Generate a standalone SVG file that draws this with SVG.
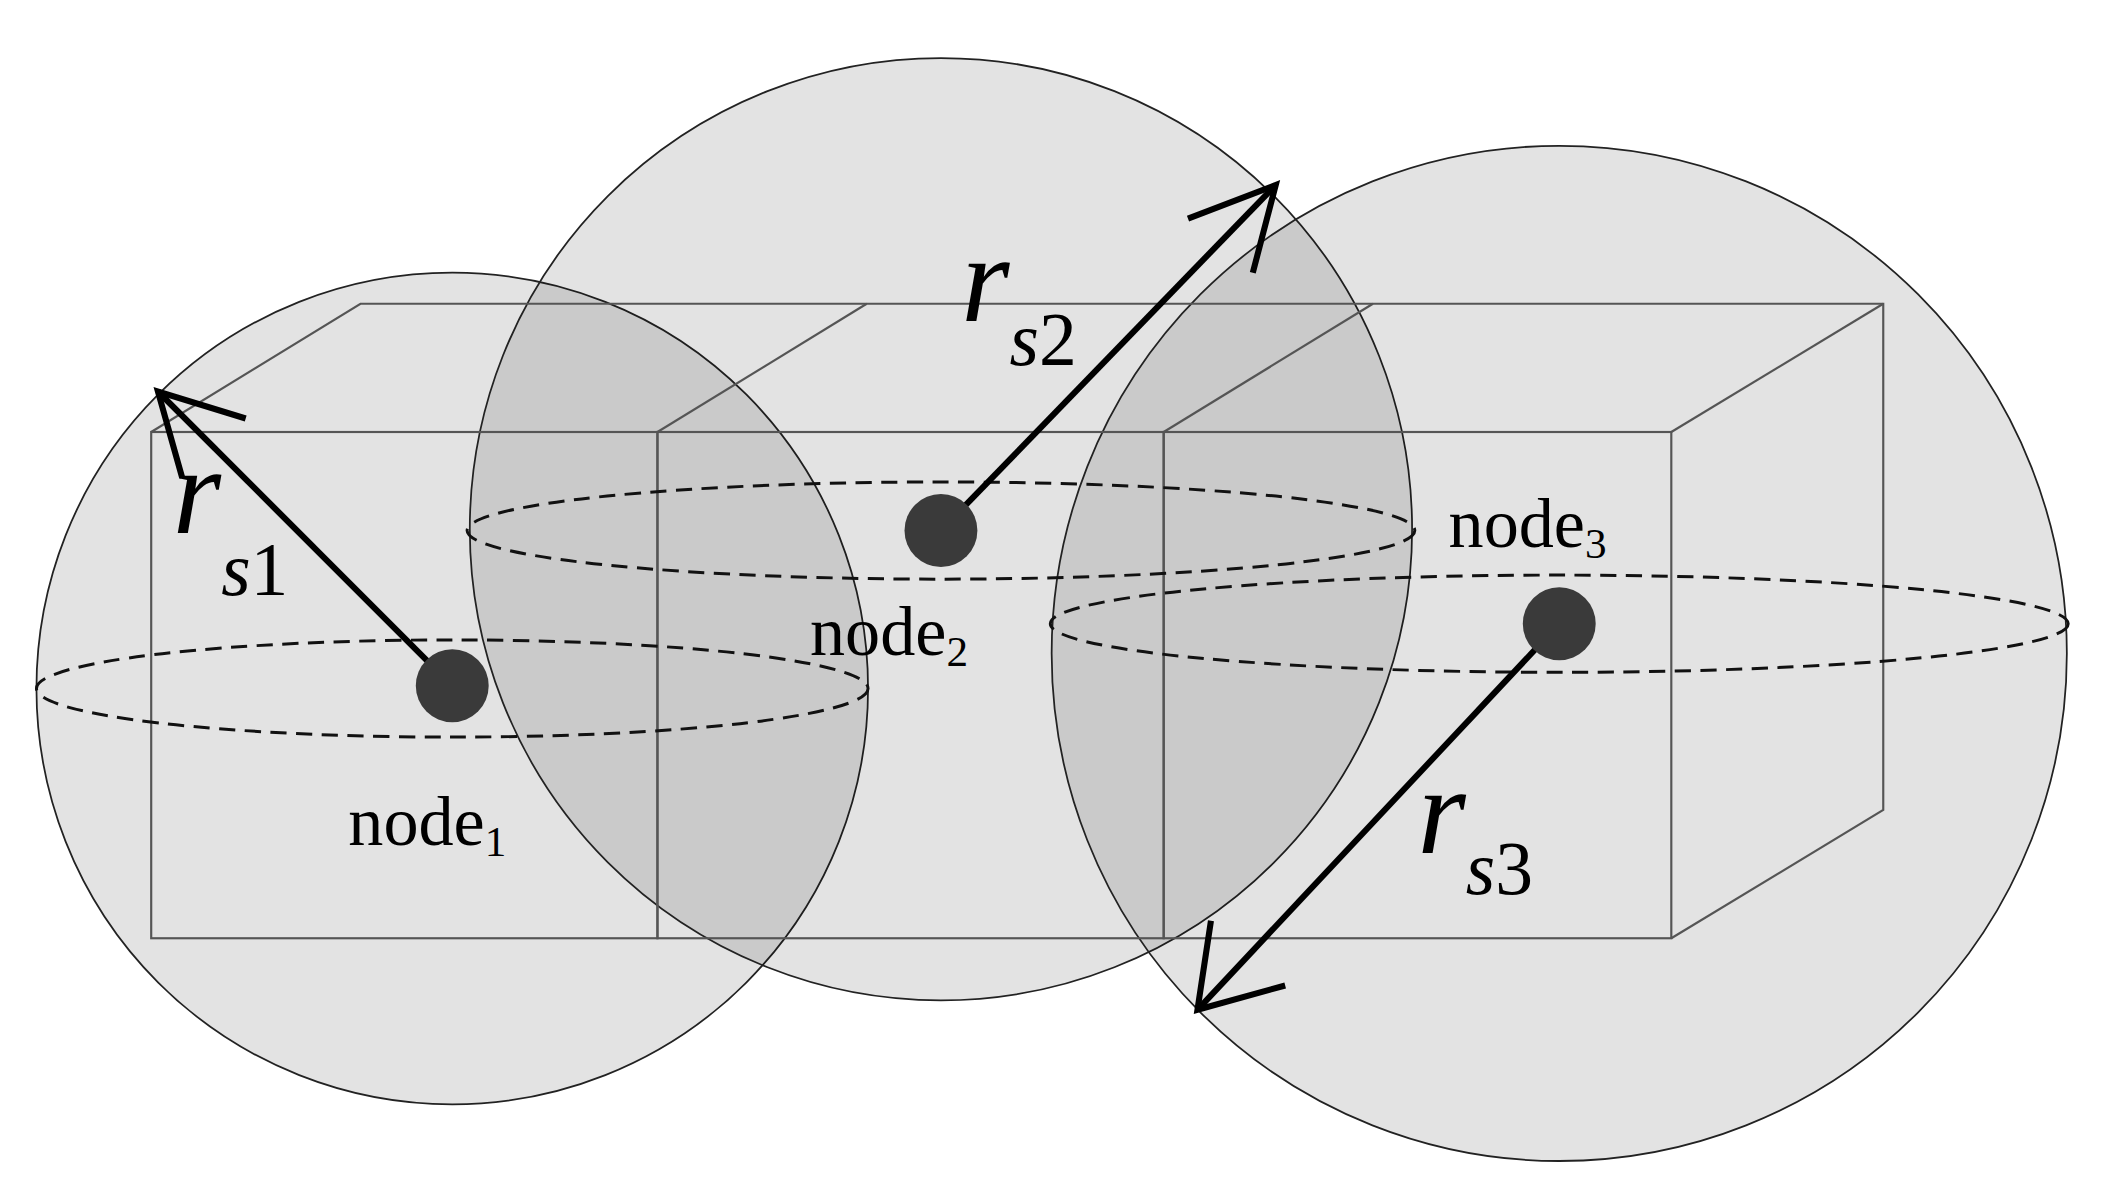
<svg xmlns="http://www.w3.org/2000/svg" width="2112" height="1200" viewBox="0 0 2112 1200">
<style>
.sph{fill:#000;fill-opacity:0.11;stroke:#222;stroke-width:1.3}
.box{fill:none;stroke:#555;stroke-width:1.6}
.eq{fill:none;stroke:#111;stroke-width:2.2;stroke-dasharray:12 7}
.arr{stroke:#000;stroke-width:4.5;fill:none}
.dot{fill:#3a3a3a}
.lab{font-family:"Liberation Serif",serif;font-size:52px;fill:#000}
.r{font-family:"Liberation Serif",serif;font-style:italic;font-size:92px;fill:#000}
</style>
<rect width="2112" height="1200" fill="#fff"/>
<g transform="scale(1.35)">
<g id="spheres">
<circle class="sph" cx="335" cy="510" r="308"/>
<circle class="sph" cx="697" cy="392" r="349"/>
<circle class="sph" cx="1155" cy="484" r="376"/>
</g>
<g id="boxes" class="box">
<rect x="112" y="320" width="375" height="375"/>
<rect x="487" y="320" width="375" height="375"/>
<rect x="862" y="320" width="376" height="375"/>
<polyline points="112,320 267,225 1395,225 1395,600 1238,695"/>
<line x1="487" y1="320" x2="642" y2="225"/>
<line x1="862" y1="320" x2="1017" y2="225"/>
<line x1="1238" y1="320" x2="1395" y2="225"/>
</g>
<g id="equators">
<ellipse class="eq" cx="335" cy="510" rx="308" ry="36"/>
<ellipse class="eq" cx="697" cy="393" rx="351" ry="36"/>
<ellipse class="eq" cx="1155" cy="462" rx="377" ry="36"/>
</g>
<g id="connectors" class="arr">
<line x1="335" y1="508" x2="117" y2="290"/>
<polyline points="182,310 117,290 135,354"/>
<line x1="697" y1="393" x2="945" y2="137"/>
<polyline points="880,162 945,137 928,202"/>
<line x1="1155" y1="462" x2="887" y2="748"/>
<polyline points="897,682 887,748 952,730"/>
</g>
<g id="node1"><circle class="dot" cx="335" cy="508" r="27"/><text class="lab" x="258" y="626">node<tspan font-size="32" dy="8">1</tspan></text></g>
<g id="node2"><circle class="dot" cx="697" cy="393" r="27"/><text class="lab" x="600" y="485">node<tspan font-size="32" dy="8">2</tspan></text></g>
<g id="node3"><circle class="dot" cx="1155" cy="462" r="27"/><text class="lab" x="1073" y="405">node<tspan font-size="32" dy="8">3</tspan></text></g>
<g id="labels">
<text class="r" x="128" y="395">r<tspan font-size="56" dy="46">s</tspan><tspan font-style="normal" font-size="56">1</tspan></text>
<text class="r" x="712" y="238">r<tspan font-size="56" dy="32">s</tspan><tspan font-style="normal" font-size="56">2</tspan></text>
<text class="r" x="1050" y="632">r<tspan font-size="56" dy="30">s</tspan><tspan font-style="normal" font-size="56">3</tspan></text>
</g>
</g>
</svg>
